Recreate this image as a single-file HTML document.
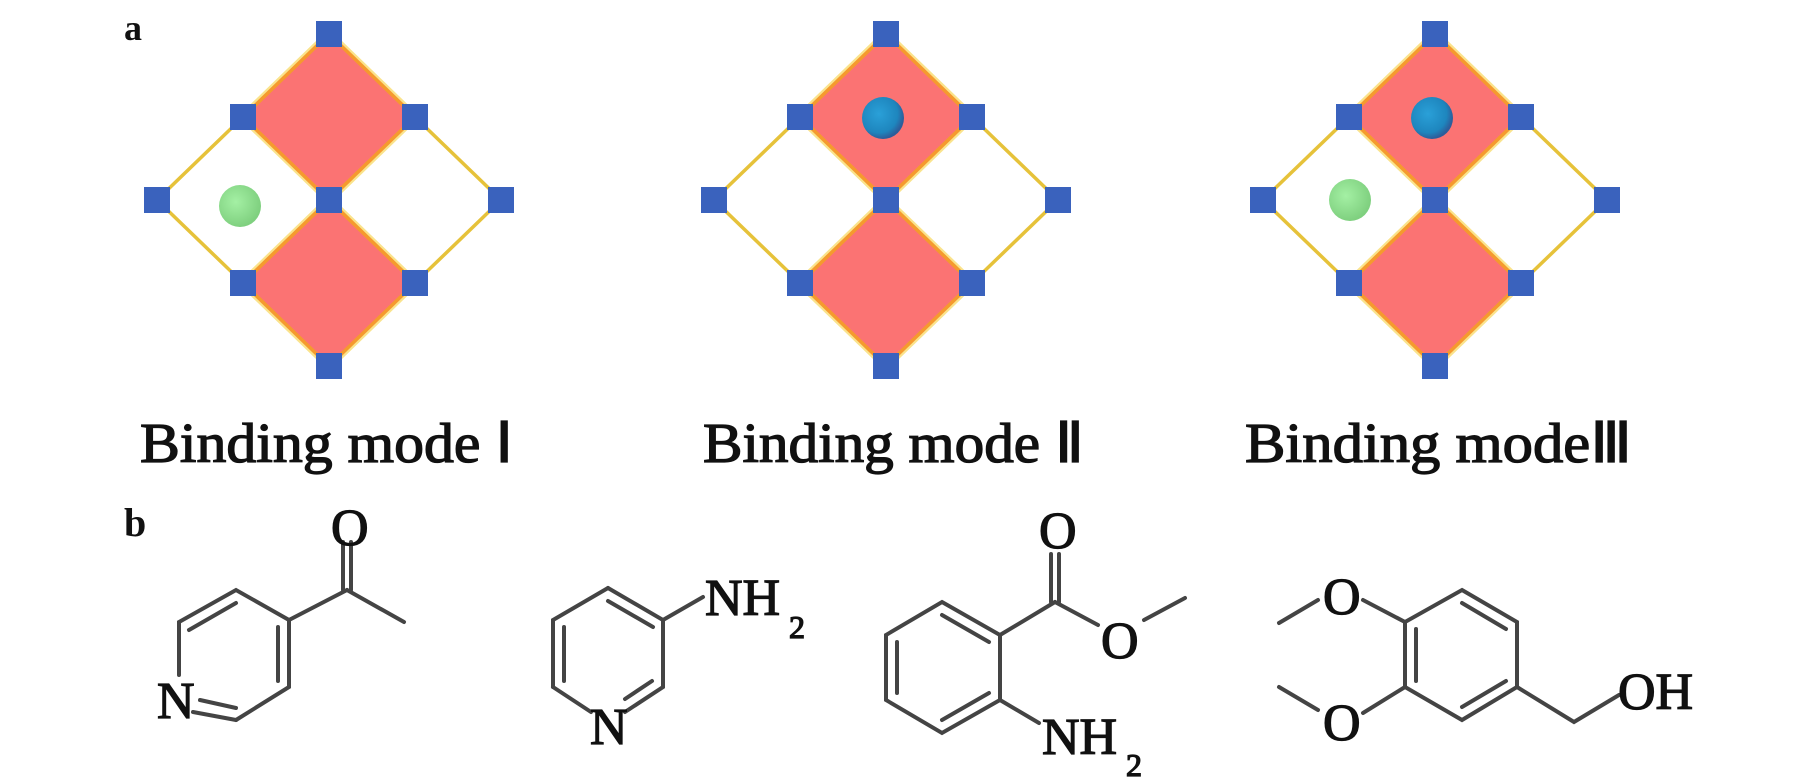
<!DOCTYPE html>
<html><head><meta charset="utf-8"><style>
html,body{margin:0;padding:0;background:#fff;}
svg{display:block;}
text{font-family:"Liberation Serif",serif;fill:#111;}
.m{stroke:#111;stroke-width:1.3;}
</style></head><body>
<svg width="1819" height="780" viewBox="0 0 1819 780" xmlns="http://www.w3.org/2000/svg">
<defs>
<radialGradient id="gb" cx="0.4" cy="0.4" r="0.6"><stop offset="0" stop-color="#2aa0d8"/><stop offset="0.75" stop-color="#1e86be"/><stop offset="1" stop-color="#2d5d9a"/></radialGradient>
<radialGradient id="gg" cx="0.4" cy="0.4" r="0.6"><stop offset="0" stop-color="#a4f0a4"/><stop offset="1" stop-color="#7fd07f"/></radialGradient>
<g id="grid">
  <polygon points="-86,-83 0,0 -86,83 -172,0" fill="none" stroke="#e6c23a" stroke-width="3.5"/>
  <polygon points="86,-83 172,0 86,83 0,0" fill="none" stroke="#e6c23a" stroke-width="3.5"/>
  <polygon points="0,-166 86,-83 0,0 -86,-83" fill="#fb7373" stroke="#f7d040" stroke-width="8" stroke-linejoin="round" stroke-opacity="0.6"/>
  <polygon points="0,-166 86,-83 0,0 -86,-83" fill="#fb7373" stroke="#f59a2e" stroke-width="3.5" stroke-linejoin="round"/>
  <polygon points="0,0 86,83 0,166 -86,83" fill="#fb7373" stroke="#f7d040" stroke-width="8" stroke-linejoin="round" stroke-opacity="0.6"/>
  <polygon points="0,0 86,83 0,166 -86,83" fill="#fb7373" stroke="#f59a2e" stroke-width="3.5" stroke-linejoin="round"/>
  <g fill="#3a62bd">
    <rect x="-13" y="-179" width="26" height="26"/>
    <rect x="-99" y="-96" width="26" height="26"/>
    <rect x="73" y="-96" width="26" height="26"/>
    <rect x="-185" y="-13" width="26" height="26"/>
    <rect x="-13" y="-13" width="26" height="26"/>
    <rect x="159" y="-13" width="26" height="26"/>
    <rect x="-99" y="70" width="26" height="26"/>
    <rect x="73" y="70" width="26" height="26"/>
    <rect x="-13" y="153" width="26" height="26"/>
  </g>
</g>
</defs>

<text x="124" y="40" font-size="36" font-weight="bold">a</text>
<text x="124" y="536" font-size="40" font-weight="bold">b</text>

<use href="#grid" x="329" y="200"/>
<circle cx="240" cy="206" r="21" fill="url(#gg)"/>
<use href="#grid" x="886" y="200"/>
<circle cx="883" cy="118" r="21" fill="url(#gb)"/>
<use href="#grid" x="1435" y="200"/>
<circle cx="1432" cy="118" r="21" fill="url(#gb)"/>
<circle cx="1350" cy="200" r="21" fill="url(#gg)"/>

<text class="m" x="140" y="462" font-size="56" textLength="373" lengthAdjust="spacingAndGlyphs">Binding mode Ⅰ</text>
<text class="m" x="703" y="462" font-size="56" textLength="381" lengthAdjust="spacingAndGlyphs">Binding mode Ⅱ</text>
<text class="m" x="1245" y="462" font-size="56" textLength="387" lengthAdjust="spacingAndGlyphs">Binding modeⅢ</text>

<g stroke="#444" stroke-width="4" fill="none" stroke-linecap="round">
  <polyline points="289,620 236,590 179,622 179,675"/>
  <line x1="193" y1="712" x2="236" y2="720"/>
  <polyline points="236,720 289,687 289,620"/>
  <line x1="236" y1="603" x2="189" y2="630"/>
  <line x1="278" y1="627" x2="278" y2="681"/>
  <line x1="200" y1="700" x2="236" y2="708"/>
  <line x1="289" y1="620" x2="347" y2="590"/>
  <line x1="347" y1="590" x2="404" y2="622"/>
  <line x1="343" y1="590" x2="343" y2="542"/>
  <line x1="351" y1="590" x2="351" y2="542"/>
  <polyline points="608,588 663,620 663,687 625,712"/>
  <line x1="591" y1="712" x2="553" y2="687"/>
  <polyline points="553,687 553,620 608,588"/>
  <line x1="608" y1="601" x2="653" y2="627"/>
  <line x1="564" y1="627" x2="564" y2="681"/>
  <line x1="652" y1="681" x2="625" y2="699"/>
  <line x1="663" y1="620" x2="703" y2="597"/>
  <polygon points="942,602 1000,635 1000,700 942,733 886,700 886,635"/>
  <line x1="897" y1="642" x2="897" y2="693"/>
  <line x1="942" y1="615" x2="989" y2="642"/>
  <line x1="942" y1="720" x2="989" y2="693"/>
  <line x1="1000" y1="635" x2="1055" y2="602"/>
  <line x1="1051" y1="602" x2="1051" y2="554"/>
  <line x1="1059" y1="602" x2="1059" y2="554"/>
  <line x1="1055" y1="602" x2="1098" y2="625"/>
  <line x1="1144" y1="620" x2="1185" y2="598"/>
  <line x1="1000" y1="700" x2="1039" y2="723"/>
  <polygon points="1462,590 1517,622 1517,687 1462,720 1405,687 1405,622"/>
  <line x1="1416" y1="629" x2="1416" y2="681"/>
  <line x1="1462" y1="603" x2="1506" y2="629"/>
  <line x1="1462" y1="707" x2="1506" y2="681"/>
  <line x1="1279" y1="623" x2="1318" y2="600"/>
  <line x1="1279" y1="687" x2="1318" y2="710"/>
  <line x1="1363" y1="600" x2="1405" y2="622"/>
  <line x1="1363" y1="713" x2="1405" y2="687"/>
  <polyline points="1517,687 1574,722 1619,695"/>
</g>

<g font-size="52" class="m">
  <text x="331" y="545">O</text>
  <text x="157" y="718">N</text>
  <text x="590" y="744">N</text>
  <text x="705" y="615">NH</text>
  <text x="789" y="638" font-size="32">2</text>
  <text x="1039" y="548">O</text>
  <text x="1101" y="658">O</text>
  <text x="1042" y="754">NH</text>
  <text x="1126" y="776" font-size="32">2</text>
  <text x="1323" y="614">O</text>
  <text x="1323" y="740">O</text>
  <text x="1618" y="709">OH</text>
</g>
</svg>
</body></html>
